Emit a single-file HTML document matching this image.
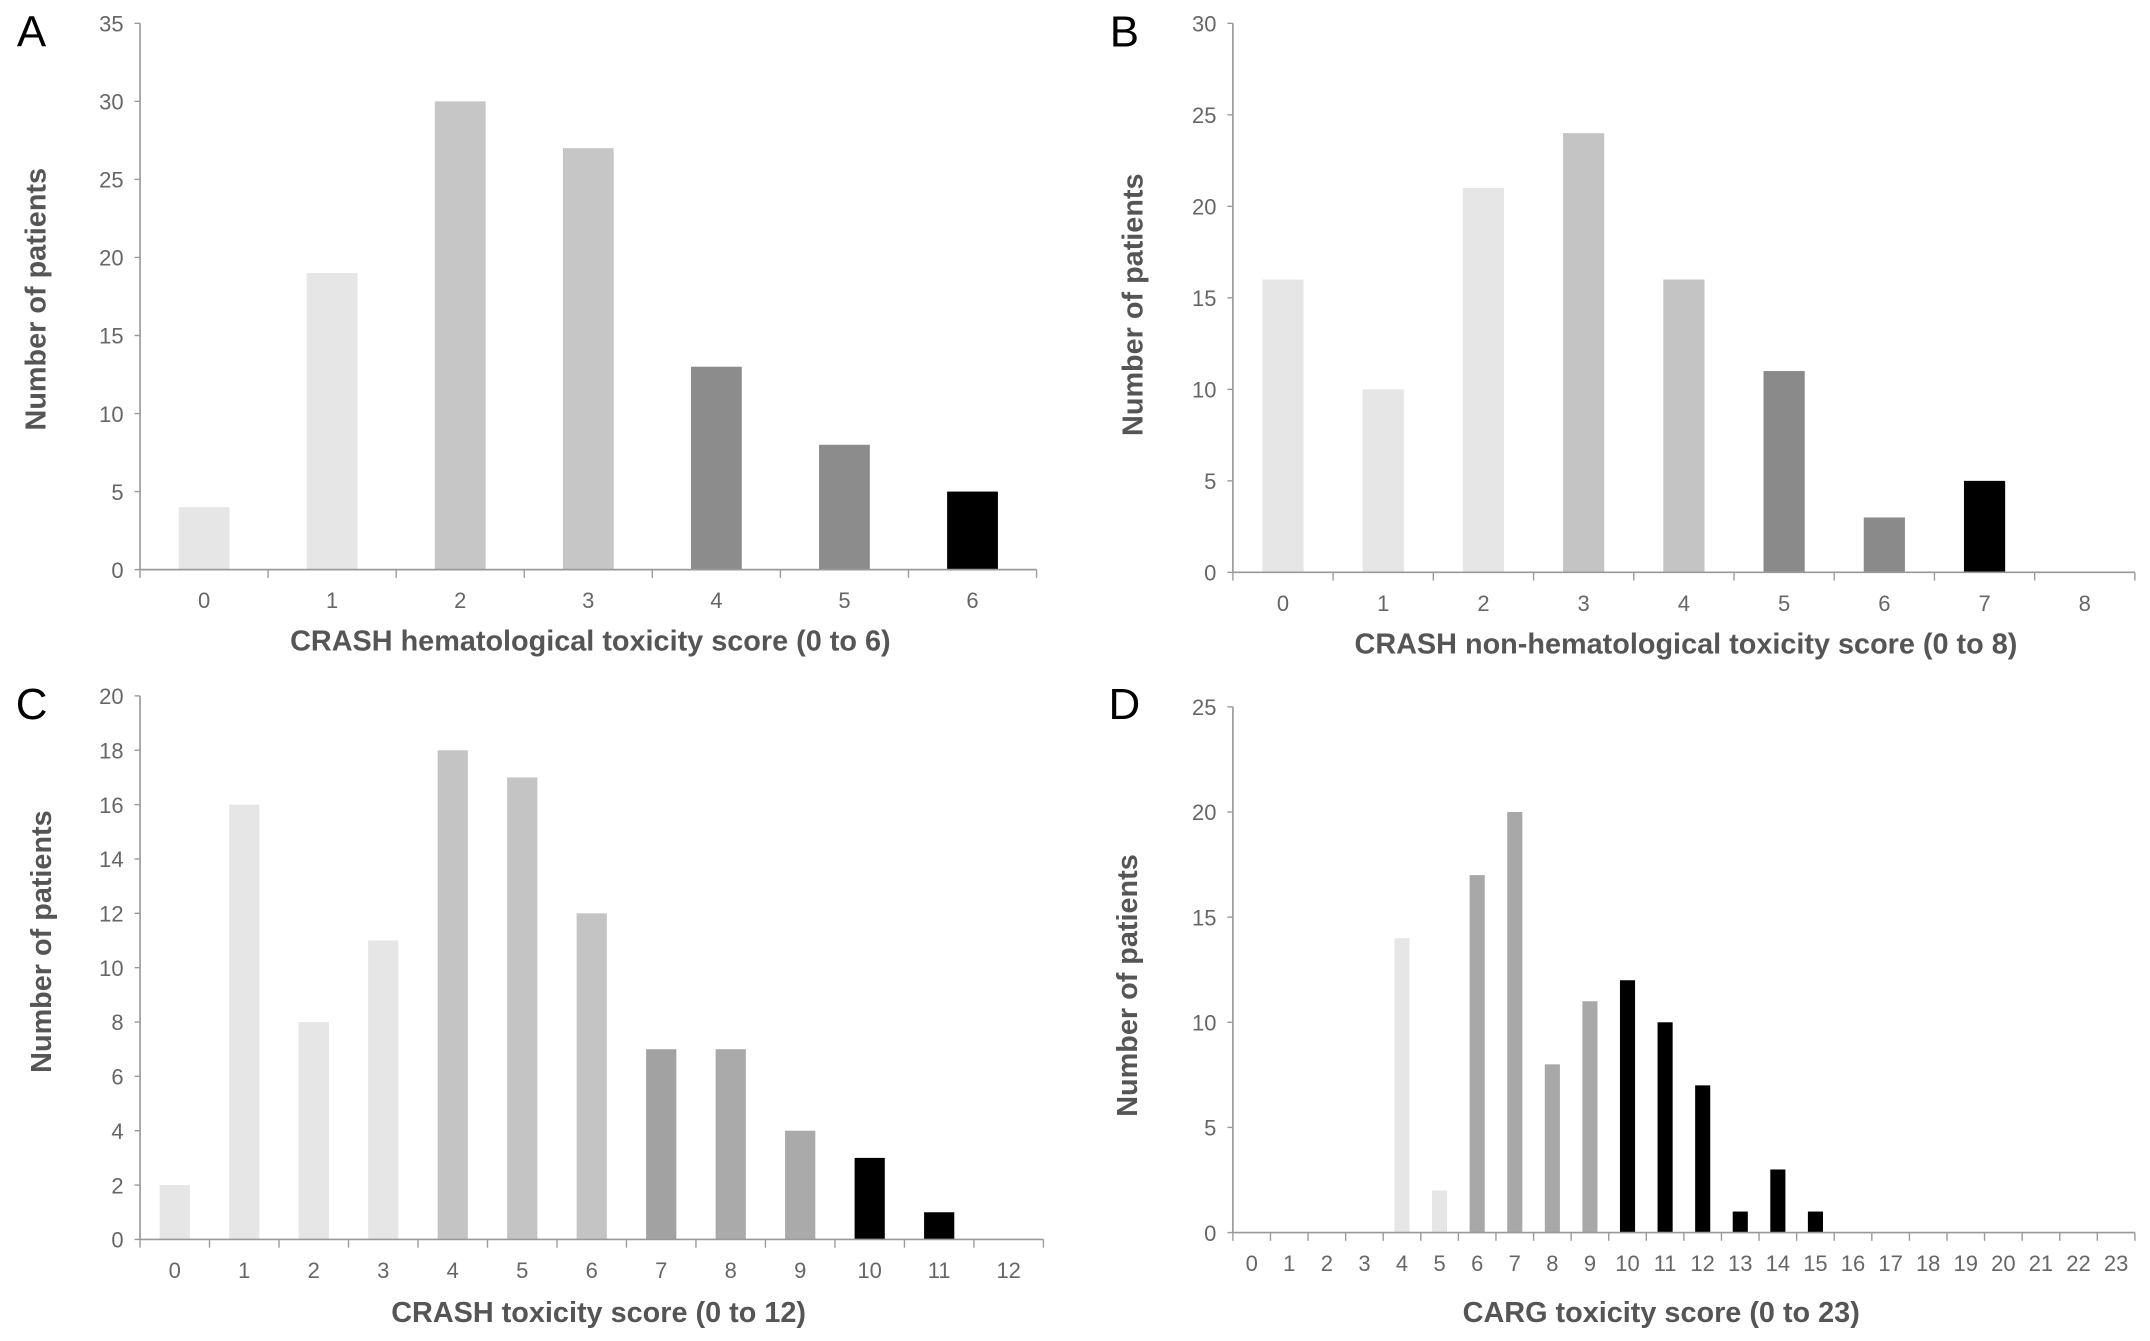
<!DOCTYPE html>
<html><head><meta charset="utf-8"><style>
html,body{margin:0;padding:0;background:#fff;}
svg{display:block;}
.tk{font-family:"Liberation Sans",sans-serif;font-size:16px;fill:#666;}
.tt{font-family:"Liberation Sans",sans-serif;font-size:21px;font-weight:bold;fill:#555;}
.pl{font-family:"Liberation Sans",sans-serif;font-size:32px;fill:#000;}
</style></head><body>
<svg id="fig" width="2150" height="1341" viewBox="0 0 1566 977" preserveAspectRatio="none" xmlns="http://www.w3.org/2000/svg"></svg>
<script>
const aValues=[4,19,30,27,13,8,5];
const aColors=['#e6e6e6','#e6e6e6','#c6c6c6','#c6c6c6','#8c8c8c','#8c8c8c','#000'];
const aTicks=[0,5,10,15,20,25,30,35];
const bValues=[16,10,21,24,16,11,3,5,0];
const bColors=['#e6e6e6','#e6e6e6','#e6e6e6','#c4c4c4','#c4c4c4','#8a8a8a','#8a8a8a','#000','#000'];
const bTicks=[0,5,10,15,20,25,30];
const cValues=[2,16,8,11,18,17,12,7,7,4,3,1,0];
const cColors=['#e6e6e6','#e6e6e6','#e6e6e6','#e6e6e6','#c4c4c4','#c4c4c4','#c4c4c4','#a2a2a2','#aaaaaa','#aaaaaa','#000','#000','#000'];
const cTicks=[0,2,4,6,8,10,12,14,16,18,20];
const dValues=[0,0,0,0,14,2,17,20,8,11,12,10,7,1,3,1,0,0,0,0,0,0,0,0];
const dColors=['#e6e6e6','#e6e6e6','#e6e6e6','#e6e6e6','#e6e6e6','#e6e6e6','#a8a8a8','#a8a8a8','#a8a8a8','#a8a8a8','#000','#000','#000','#000','#000','#000','#000','#000','#000','#000','#000','#000','#000','#000'];
const dTicks=[0,5,10,15,20,25];

const NS='http://www.w3.org/2000/svg';
const svg=document.getElementById('fig');
function mk(tag,attrs,parent){const e=document.createElementNS(NS,tag);for(const k in attrs)e.setAttribute(k,attrs[k]);(parent||svg).appendChild(e);return e;}

function panel(id,letter,lx,ly,x0,x1,y0,y1,values,colors,ticks,barW,xTitle,xtX,xtY,ytX,ytY){
  const g=mk('g',{});
  
  
  const ymax=ticks[ticks.length-1];
  const n=values.length;
  const slot=(x1-x0)/n;
  const xs=i=>x0+slot*(i+0.5);
  const ys=v=>y0-(y0-y1)*v/ymax;
  const pl=mk('text',{x:lx,y:ly,class:'pl','text-anchor':'middle'},g);pl.textContent=letter;
  
  
  values.forEach((v,i)=>{
    if(v<=0)return;
    const r=mk('rect',{x:xs(i)-barW/2,y:ys(v),width:barW,height:y0-ys(v),fill:colors[i]},g);
    
    
  });
  const ya=mk('line',{x1:x0,y1:y1,x2:x0,y2:y0,stroke:'#999','stroke-width':1.2},g);
  
  
  const xa=mk('line',{x1:x0,y1:y0,x2:x1,y2:y0,stroke:'#999','stroke-width':1.2},g);
  
  
  ticks.forEach(t=>{
    mk('line',{x1:x0-4,y1:ys(t),x2:x0,y2:ys(t),stroke:'#999','stroke-width':1},g);
    const tl=mk('text',{x:x0-12,y:ys(t)+6,class:'tk','text-anchor':'end'},g);tl.textContent=t;
    
    
  });
  for(let i=0;i<=n;i++)mk('line',{x1:x0+slot*i,y1:y0,x2:x0+slot*i,y2:y0+6,stroke:'#999','stroke-width':1},g);
  values.forEach((v,i)=>{
    const tl=mk('text',{x:xs(i),y:y0+28,class:'tk','text-anchor':'middle'},g);tl.textContent=i;
    
    
  });
  const xt=mk('text',{x:xtX,y:xtY,class:'tt','text-anchor':'middle'},g);xt.textContent=xTitle;
  
  
  const yt=mk('text',{x:0,y:0,class:'tt','text-anchor':'middle',transform:'translate('+ytX+','+ytY+') rotate(-90)'},g);yt.textContent='Number of patients';
  
  
}
panel('a','A',23,34,102,755,415,17,aValues,aColors,aTicks,37,'CRASH hematological toxicity score (0 to 6)',430,474,33,218);
panel('b','B',819,34,898,1555,417,17,bValues,bColors,bTicks,30,'CRASH non-hematological toxicity score (0 to 8)',1228,476,832,222);
panel('c','C',23,524,102,760,903,507,cValues,cColors,cTicks,22,'CRASH toxicity score (0 to 12)',436,963,37,686);
panel('d','D',819,524,898,1555,898,515,dValues,dColors,dTicks,11,'CARG toxicity score (0 to 23)',1210,963,828,718);
</script>
</body></html>
